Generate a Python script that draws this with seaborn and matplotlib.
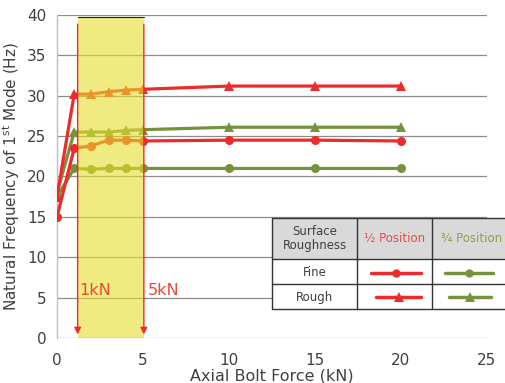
import matplotlib
matplotlib.use("Agg")
import matplotlib.pyplot as plt
import seaborn as sns
import pandas as pd
from matplotlib.patches import Rectangle
from matplotlib.lines import Line2D

force = [0, 1, 2, 3, 4, 5, 10, 15, 20]
fine_half = [15.0, 23.5, 23.8, 24.5, 24.5, 24.4, 24.5, 24.5, 24.4]
rough_half = [17.5, 30.2, 30.2, 30.5, 30.7, 30.8, 31.2, 31.2, 31.2]
fine_quarter = [17.5, 21.0, 20.9, 21.0, 21.0, 21.0, 21.0, 21.0, 21.0]
rough_quarter = [18.0, 25.5, 25.5, 25.5, 25.7, 25.8, 26.1, 26.1, 26.1]

RED = "#ee2a2a"
GREEN = "#76923c"
GRAY_TXT = "#404040"

sns.set_style("white")
plt.rcParams['font.family'] = ['DejaVu Sans']

fig = plt.figure(figsize=(5.05, 3.83), dpi=100)
W, H = 505, 383
ax = fig.add_axes([57 / W, 1 - 338 / H, (487 - 57) / W, (338 - 15) / H])

series = [
    (fine_quarter, GREEN, "o", 6.5),
    (rough_quarter, GREEN, "^", 7.5),
    (fine_half, RED, "o", 6.5),
    (rough_half, RED, "^", 7.5),
]
for vals, col, mk, ms in series:
    df = pd.DataFrame({"x": force, "y": vals})
    sns.lineplot(data=df, x="x", y="y", color=col, marker=mk, markersize=ms,
                 markeredgewidth=0, linewidth=2.3, ax=ax, legend=False, zorder=3)

# yellow highlight overlay
ax.add_patch(Rectangle((1.2, 0), 3.85, 39.8, facecolor=(0.9, 0.87, 0.17), alpha=0.6,
                       edgecolor="none", zorder=4))
ax.plot([1.2, 5.05], [39.8, 39.8], color="#222222", lw=0.8, zorder=5)
ax.plot([1.2, 5.05], [0, 0], color="#222222", lw=0.8, zorder=5)
for xv in (1.2, 5.05):
    ax.annotate("", xy=(xv, 0.1), xytext=(xv, 39.2),
                arrowprops=dict(arrowstyle="-|>", color=RED, lw=1.0,
                                mutation_scale=10), zorder=6)
ax.text(1.3, 5.3, "1kN", color="#e84a3a", fontsize=11.5, zorder=6)
ax.text(5.3, 5.3, "5kN", color="#e84a3a", fontsize=11.5, zorder=6)

ax.set_xlim(0, 25)
ax.set_ylim(0, 40)
ax.set_xticks([0, 5, 10, 15, 20, 25])
ax.set_yticks(range(0, 41, 5))
ax.yaxis.grid(True, color="#8c8c8c", lw=0.9)
ax.set_axisbelow(True)
for s in ["top", "right", "bottom"]:
    ax.spines[s].set_visible(False)
ax.spines["left"].set_color("#bfbfbf")
ax.spines["left"].set_linewidth(1.0)
ax.tick_params(axis="both", colors=GRAY_TXT, labelsize=11, length=4, color="#8c8c8c")
ax.tick_params(axis="x", pad=7)
ax.set_xlabel("Axial Bolt Force (kN)", fontsize=11.5, color=GRAY_TXT, labelpad=0)
ax.set_ylabel("Natural Frequency of 1$^{\\mathrm{st}}$ Mode (Hz)", fontsize=11, color=GRAY_TXT, labelpad=4)

# table legend in figure pixel coordinates
def fx(x):
    return x / W

def fy(y):
    return 1 - y / H

cols = [272, 357, 432, 520]
rows = [218, 259, 284, 309]
fig.patches.append(Rectangle((fx(272), fy(309)), fx(520) - fx(272), fy(218) - fy(309),
                             transform=fig.transFigure, facecolor="white",
                             edgecolor="none", zorder=10))
fig.patches.append(Rectangle((fx(272), fy(259)), fx(520) - fx(272), fy(218) - fy(259),
                             transform=fig.transFigure, facecolor="#d9d9d9",
                             edgecolor="none", zorder=11))
for y in rows:
    fig.add_artist(Line2D([fx(272), fx(520)], [fy(y), fy(y)], color="#333333", lw=1.0, zorder=12))
for x in cols[:3]:
    fig.add_artist(Line2D([fx(x), fx(x)], [fy(218), fy(309)], color="#333333", lw=1.0, zorder=12))

def ctext(x, y, s, col):
    fig.text(fx(x), fy(y), s, ha="center", va="center", fontsize=8.5, color=col,
             zorder=13, linespacing=1.1)

ctext(314.5, 238.5, "Surface\nRoughness", GRAY_TXT)
ctext(394.5, 238.5, "½ Position", "#e84a4a")
ctext(472, 238.5, "¾ Position", "#8aa050")
ctext(314.5, 272, "Fine", GRAY_TXT)
ctext(314.5, 297, "Rough", GRAY_TXT)

def sample(x0, x1, y, col, mk, ms):
    fig.add_artist(Line2D([fx(x0), fx(x1)], [fy(y), fy(y)], color=col, lw=2.5, zorder=13))
    fig.add_artist(Line2D([fx((x0 + x1) / 2)], [fy(y)], color=col, marker=mk,
                          markersize=ms, markeredgewidth=0, zorder=14))

sample(371, 421, 273, RED, "o", 6)
sample(445, 493, 273, GREEN, "o", 6)
sample(376, 421, 297, RED, "^", 7)
sample(449, 491, 297, GREEN, "^", 7)

fig.savefig("out.png", dpi=100)
